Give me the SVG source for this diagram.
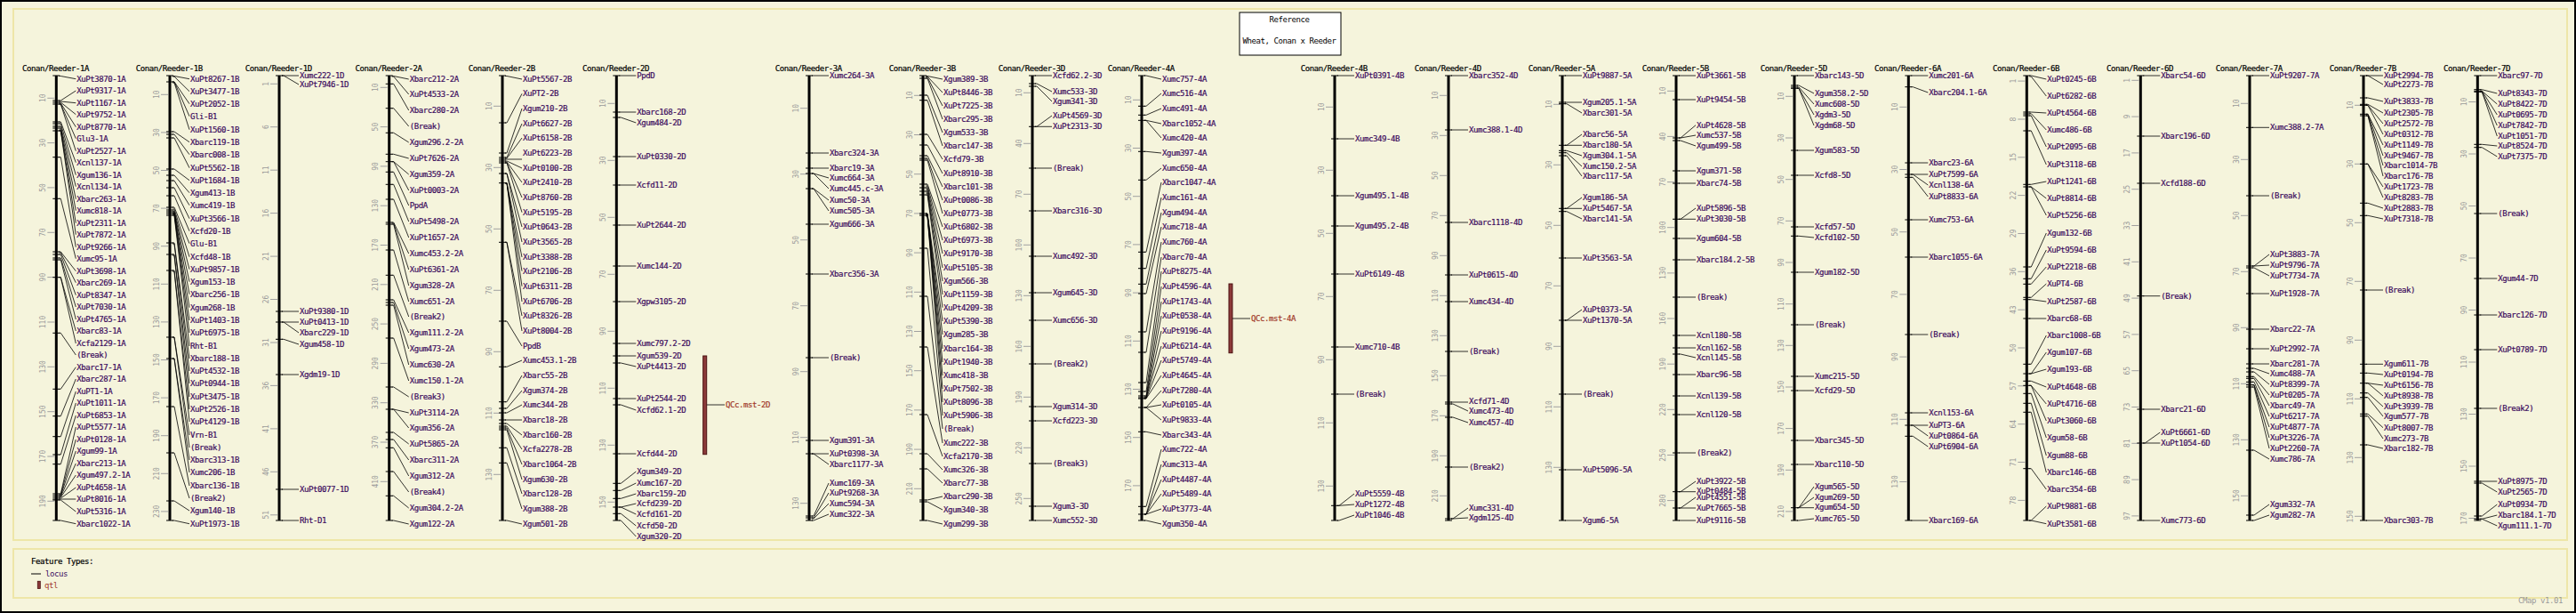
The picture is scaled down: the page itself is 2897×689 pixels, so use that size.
<svg xmlns="http://www.w3.org/2000/svg" width="2897" height="689" viewBox="0 0 2897 689">
<style>
text{font-family:"DejaVu Sans Mono","Liberation Mono",monospace;font-size:9px;letter-spacing:-0.42px;dominant-baseline:central}
.lab text{fill:#3b0a5c;stroke:#3b0a5c;stroke-width:0.2px}
.ttl{fill:#000;stroke:#000;stroke-width:0.2px}
.sc text{font-size:8px;fill:#9a9a9a;text-anchor:middle;letter-spacing:0}
.stk{stroke:#a0a0a0;stroke-width:1;fill:none}
.tk{stroke:#000;stroke-width:1;fill:none}
.bar{fill:#000}
#connectors path{stroke:#000;stroke-width:0.8;fill:none}
.qtl{fill:#8c3a3a;stroke:#4a1010;stroke-width:1}
.qlab{fill:#a23a2a;stroke:#a23a2a;stroke-width:0.2px}
</style>
<rect x="1" y="1" width="2895" height="687" fill="#f6f4dc" stroke="#000" stroke-width="2"/>
<rect x="15" y="10" width="2872" height="597" fill="#f5f4dc" stroke="#eee6a8" stroke-width="2"/>
<rect x="15" y="617" width="2872" height="55" fill="#f5f4dc" stroke="#eee6a8" stroke-width="2"/>
<g id="title">
<rect x="1394" y="14" width="114" height="48" fill="#fff" stroke="#000" stroke-width="1"/>
<text x="1450" y="22" text-anchor="middle" fill="#000">Reference</text>
<text x="1450" y="46" text-anchor="middle" fill="#000">Wheat, Conan x Reeder</text>
</g>

<g id="map-1A" transform="translate(63.3 0)">
<text class="ttl" x="-38.3" y="77">Conan/Reeder-1A</text>
<path class="stk" d="M-10 110.3H-2M-10 160.6H-2M-10 210.9H-2M-10 261.3H-2M-10 311.6H-2M-10 362H-2M-10 412.3H-2M-10 462.7H-2M-10 513H-2M-10 563.3H-2"/>
<g class="sc"><text transform="translate(-15 110.3) rotate(-90)">10</text><text transform="translate(-15 160.6) rotate(-90)">30</text><text transform="translate(-15 210.9) rotate(-90)">50</text><text transform="translate(-15 261.3) rotate(-90)">70</text><text transform="translate(-15 311.6) rotate(-90)">90</text><text transform="translate(-15 362) rotate(-90)">110</text><text transform="translate(-15 412.3) rotate(-90)">130</text><text transform="translate(-15 462.7) rotate(-90)">150</text><text transform="translate(-15 513) rotate(-90)">170</text><text transform="translate(-15 563.3) rotate(-90)">190</text></g>
<rect class="bar" x="-1.5" y="85" width="3" height="500"/>
<path class="tk" d="M-4 85H4M-4 585H4M-4 113H4M-4 115H4M-4 117H4M-4 137H4M-4 139H4M-4 142H4M-4 144H4M-4 147H4M-4 176.7H4M-4 223.3H4M-4 283H4M-4 286H4M-4 290H4M-4 292H4M-4 311.7H4M-4 374.3H4M-4 437.3H4M-4 467.7H4M-4 490.7H4M-4 511H4M-4 521.7H4M-4 555H4M-4 557H4M-4 559H4M-4 561H4M-4 562H4"/>
<g class="lab">
<text x="23" y="88.7">XuPt3870-1A</text><text x="23" y="102">XuPt9317-1A</text><text x="23" y="115.7">XuPt1167-1A</text><text x="23" y="128.7">XuPt9752-1A</text><text x="23" y="142.7">XuPt8770-1A</text><text x="23" y="155.7">Glu3-1A</text><text x="23" y="169.7">XuPt2527-1A</text><text x="23" y="182.7">Xcnl137-1A</text><text x="23" y="196.7">Xgum136-1A</text><text x="23" y="209.7">Xcnl134-1A</text><text x="23" y="223.7">Xbarc263-1A</text><text x="23" y="236.7">Xumc818-1A</text><text x="23" y="250.7">XuPt2311-1A</text><text x="23" y="263.7">XuPt7872-1A</text><text x="23" y="277.7">XuPt9266-1A</text><text x="23" y="290.7">Xumc95-1A</text><text x="23" y="304.7">XuPt3698-1A</text><text x="23" y="317.7">Xbarc269-1A</text><text x="23" y="331.7">XuPt8347-1A</text><text x="23" y="345">XuPt7030-1A</text><text x="23" y="359">XuPt4765-1A</text><text x="23" y="372">Xbarc83-1A</text><text x="23" y="386">Xcfa2129-1A</text><text x="23" y="399">(Break)</text><text x="23" y="412.7">Xbarc17-1A</text><text x="23" y="426">Xbarc287-1A</text><text x="23" y="440">XuPT1-1A</text><text x="23" y="453">XuPt1011-1A</text><text x="23" y="467">XuPt6853-1A</text><text x="23" y="480">XuPt5577-1A</text><text x="23" y="494">XuPt0128-1A</text><text x="23" y="507">Xgum99-1A</text><text x="23" y="521">Xbarc213-1A</text><text x="23" y="534">Xgum497.2-1A</text><text x="23" y="548">XuPt4658-1A</text><text x="23" y="561">XuPt8016-1A</text><text x="23" y="575">XuPt5316-1A</text><text x="23" y="588.7">Xbarc1022-1A</text>
</g>
</g>

<g id="map-1B" transform="translate(191 0)">
<text class="ttl" x="-38.3" y="77">Conan/Reeder-1B</text>
<path class="stk" d="M-10 106.3H-2M-10 148.9H-2M-10 191.5H-2M-10 234.1H-2M-10 276.7H-2M-10 319.3H-2M-10 361.9H-2M-10 404.5H-2M-10 447.1H-2M-10 489.7H-2M-10 532.3H-2M-10 574.9H-2"/>
<g class="sc"><text transform="translate(-15 106.3) rotate(-90)">10</text><text transform="translate(-15 148.9) rotate(-90)">30</text><text transform="translate(-15 191.5) rotate(-90)">50</text><text transform="translate(-15 234.1) rotate(-90)">70</text><text transform="translate(-15 276.7) rotate(-90)">90</text><text transform="translate(-15 319.3) rotate(-90)">110</text><text transform="translate(-15 361.9) rotate(-90)">130</text><text transform="translate(-15 404.5) rotate(-90)">150</text><text transform="translate(-15 447.1) rotate(-90)">170</text><text transform="translate(-15 489.7) rotate(-90)">190</text><text transform="translate(-15 532.3) rotate(-90)">210</text><text transform="translate(-15 574.9) rotate(-90)">230</text></g>
<rect class="bar" x="-1.5" y="85" width="3" height="500"/>
<path class="tk" d="M-4 85H4M-4 585H4M-4 92H4M-4 148H4M-4 151H4M-4 155H4M-4 190H4M-4 197H4M-4 203H4M-4 211H4M-4 220H4M-4 233H4M-4 236H4M-4 238H4M-4 240H4M-4 242H4M-4 273H4M-4 286H4M-4 304H4M-4 379H4M-4 403H4M-4 457H4M-4 509H4M-4 563H4"/>
<g class="lab">
<text x="23" y="88.7">XuPt8267-1B</text><text x="23" y="102.7">XuPt3477-1B</text><text x="23" y="116.7">XuPt2052-1B</text><text x="23" y="130.7">Gli-B1</text><text x="23" y="145.7">XuPt1560-1B</text><text x="23" y="159.7">Xbarc119-1B</text><text x="23" y="173.7">Xbarc008-1B</text><text x="23" y="188.7">XuPt5562-1B</text><text x="23" y="202.7">XuPt1684-1B</text><text x="23" y="216.7">Xgum413-1B</text><text x="23" y="230.7">Xumc419-1B</text><text x="23" y="245.7">XuPt3566-1B</text><text x="23" y="259.7">Xcfd20-1B</text><text x="23" y="273.7">Glu-B1</text><text x="23" y="288.7">Xcfd48-1B</text><text x="23" y="302.7">XuPt9857-1B</text><text x="23" y="316.7">Xgum153-1B</text><text x="23" y="330.7">Xbarc256-1B</text><text x="23" y="345.7">Xgum268-1B</text><text x="23" y="360">XuPt1403-1B</text><text x="23" y="374">XuPt6975-1B</text><text x="23" y="389">Rht-B1</text><text x="23" y="403">Xbarc188-1B</text><text x="23" y="417">XuPt4532-1B</text><text x="23" y="431">XuPt0944-1B</text><text x="23" y="446">XuPt3475-1B</text><text x="23" y="460">XuPt2526-1B</text><text x="23" y="474">XuPt4129-1B</text><text x="23" y="489">Vrn-B1</text><text x="23" y="503">(Break)</text><text x="23" y="517">Xbarc313-1B</text><text x="23" y="531">Xumc206-1B</text><text x="23" y="546">Xbarc136-1B</text><text x="23" y="560">(Break2)</text><text x="23" y="574">Xgum140-1B</text><text x="23" y="588.7">XuPt1973-1B</text>
</g>
</g>

<g id="map-1D" transform="translate(314 0)">
<text class="ttl" x="-38.3" y="77">Conan/Reeder-1D</text>
<path class="stk" d="M-10 94.3H-2M-10 142.7H-2M-10 191.2H-2M-10 239.6H-2M-10 288.1H-2M-10 336.5H-2M-10 385H-2M-10 433.4H-2M-10 481.9H-2M-10 530.3H-2M-10 578.8H-2"/>
<g class="sc"><text transform="translate(-15 94.3) rotate(-90)">1</text><text transform="translate(-15 142.7) rotate(-90)">6</text><text transform="translate(-15 191.2) rotate(-90)">11</text><text transform="translate(-15 239.6) rotate(-90)">16</text><text transform="translate(-15 288.1) rotate(-90)">21</text><text transform="translate(-15 336.5) rotate(-90)">26</text><text transform="translate(-15 385) rotate(-90)">31</text><text transform="translate(-15 433.4) rotate(-90)">36</text><text transform="translate(-15 481.9) rotate(-90)">41</text><text transform="translate(-15 530.3) rotate(-90)">46</text><text transform="translate(-15 578.8) rotate(-90)">51</text></g>
<rect class="bar" x="-1.5" y="85" width="3" height="500"/>
<path class="tk" d="M-4 85H4M-4 585H4M-4 350H4M-4 362H4M-4 381.3H4M-4 421H4M-4 550H4"/>
<g class="lab">
<text x="23" y="85">Xumc222-1D</text><text x="23" y="95">XuPt7946-1D</text><text x="23" y="350">XuPt9380-1D</text><text x="23" y="362">XuPt0413-1D</text><text x="23" y="374">Xbarc229-1D</text><text x="23" y="387">Xgum458-1D</text><text x="23" y="421">Xgdm19-1D</text><text x="23" y="550">XuPt0077-1D</text><text x="23" y="585">Rht-D1</text>
</g>
</g>

<g id="map-2A" transform="translate(437.7 0)">
<text class="ttl" x="-38.3" y="77">Conan/Reeder-2A</text>
<path class="stk" d="M-10 98.3H-2M-10 142.6H-2M-10 186.9H-2M-10 231.2H-2M-10 275.5H-2M-10 319.8H-2M-10 364.1H-2M-10 408.4H-2M-10 452.7H-2M-10 497H-2M-10 541.3H-2"/>
<g class="sc"><text transform="translate(-15 98.3) rotate(-90)">10</text><text transform="translate(-15 142.6) rotate(-90)">50</text><text transform="translate(-15 186.9) rotate(-90)">90</text><text transform="translate(-15 231.2) rotate(-90)">130</text><text transform="translate(-15 275.5) rotate(-90)">170</text><text transform="translate(-15 319.8) rotate(-90)">210</text><text transform="translate(-15 364.1) rotate(-90)">250</text><text transform="translate(-15 408.4) rotate(-90)">290</text><text transform="translate(-15 452.7) rotate(-90)">330</text><text transform="translate(-15 497) rotate(-90)">370</text><text transform="translate(-15 541.3) rotate(-90)">410</text></g>
<rect class="bar" x="-1.5" y="85" width="3" height="500"/>
<path class="tk" d="M-4 85H4M-4 585H4M-4 94.3H4M-4 121.7H4M-4 149.3H4M-4 173.3H4M-4 181.7H4M-4 193.3H4M-4 207.3H4M-4 224H4M-4 250H4M-4 252H4M-4 281H4M-4 309.3H4M-4 337H4M-4 340H4M-4 343H4M-4 380H4M-4 435H4M-4 460H4M-4 486H4M-4 494H4M-4 503.3H4M-4 530H4M-4 557.3H4"/>
<g class="lab">
<text x="23" y="89">Xbarc212-2A</text><text x="23" y="106">XuPt4533-2A</text><text x="23" y="124">Xbarc280-2A</text><text x="23" y="142">(Break)</text><text x="23" y="160">Xgum296.2-2A</text><text x="23" y="178">XuPt7626-2A</text><text x="23" y="196">Xgum359-2A</text><text x="23" y="214">XuPt0003-2A</text><text x="23" y="231">PpdA</text><text x="23" y="249">XuPt5498-2A</text><text x="23" y="267">XuPt1657-2A</text><text x="23" y="285">Xumc453.2-2A</text><text x="23" y="303">XuPt6361-2A</text><text x="23" y="321">Xgum328-2A</text><text x="23" y="339">Xumc651-2A</text><text x="23" y="356">(Break2)</text><text x="23" y="374">Xgum111.2-2A</text><text x="23" y="392">Xgum473-2A</text><text x="23" y="410">Xumc630-2A</text><text x="23" y="428">Xumc150.1-2A</text><text x="23" y="446">(Break3)</text><text x="23" y="464">XuPt3114-2A</text><text x="23" y="481">Xgum356-2A</text><text x="23" y="499">XuPt5865-2A</text><text x="23" y="517">Xbarc311-2A</text><text x="23" y="535">Xgum312-2A</text><text x="23" y="553">(Break4)</text><text x="23" y="571">Xgum304.2-2A</text><text x="23" y="589">Xgum122-2A</text>
</g>
</g>

<g id="map-2B" transform="translate(565 0)">
<text class="ttl" x="-38.3" y="77">Conan/Reeder-2B</text>
<path class="stk" d="M-10 119.3H-2M-10 188.3H-2M-10 257.3H-2M-10 326.3H-2M-10 395.3H-2M-10 464.3H-2M-10 533.3H-2"/>
<g class="sc"><text transform="translate(-15 119.3) rotate(-90)">10</text><text transform="translate(-15 188.3) rotate(-90)">30</text><text transform="translate(-15 257.3) rotate(-90)">50</text><text transform="translate(-15 326.3) rotate(-90)">70</text><text transform="translate(-15 395.3) rotate(-90)">90</text><text transform="translate(-15 464.3) rotate(-90)">110</text><text transform="translate(-15 533.3) rotate(-90)">130</text></g>
<rect class="bar" x="-1.5" y="85" width="3" height="500"/>
<path class="tk" d="M-4 85H4M-4 585H4M-4 138H4M-4 172H4M-4 177H4M-4 179H4M-4 181H4M-4 183H4M-4 195H4M-4 205.7H4M-4 272.3H4M-4 361H4M-4 412.3H4M-4 451.7H4M-4 459H4M-4 464H4M-4 472H4M-4 476H4M-4 479H4M-4 481H4M-4 483H4M-4 503.3H4M-4 520.3H4"/>
<g class="lab">
<text x="23" y="89">XuPt5567-2B</text><text x="23" y="105.3">XuPT2-2B</text><text x="23" y="122">Xgum210-2B</text><text x="23" y="139">XuPt6627-2B</text><text x="23" y="155">XuPt6158-2B</text><text x="23" y="172">XuPt6223-2B</text><text x="23" y="189">XuPt0100-2B</text><text x="23" y="205">XuPt2410-2B</text><text x="23" y="222">XuPt8760-2B</text><text x="23" y="238.7">XuPt5195-2B</text><text x="23" y="255">XuPt0643-2B</text><text x="23" y="272">XuPt3565-2B</text><text x="23" y="289">XuPt3388-2B</text><text x="23" y="304.7">XuPt2106-2B</text><text x="23" y="321.7">XuPt6311-2B</text><text x="23" y="339">XuPt6706-2B</text><text x="23" y="355">XuPt8326-2B</text><text x="23" y="372">XuPt8004-2B</text><text x="23" y="389">PpdB</text><text x="23" y="405">Xumc453.1-2B</text><text x="23" y="422">Xbarc55-2B</text><text x="23" y="439">Xgum374-2B</text><text x="23" y="455">Xumc344-2B</text><text x="23" y="472">Xbarc18-2B</text><text x="23" y="489">Xbarc160-2B</text><text x="23" y="505">Xcfa2278-2B</text><text x="23" y="522">Xbarc1064-2B</text><text x="23" y="539">Xgum630-2B</text><text x="23" y="555">Xbarc128-2B</text><text x="23" y="572">Xgum388-2B</text><text x="23" y="589">Xgum501-2B</text>
</g>
</g>

<g id="map-2D" transform="translate(693.3 0)">
<text class="ttl" x="-38.3" y="77">Conan/Reeder-2D</text>
<path class="stk" d="M-10 116.3H-2M-10 180.3H-2M-10 244.3H-2M-10 308.3H-2M-10 372.3H-2M-10 436.3H-2M-10 500.3H-2M-10 564.3H-2"/>
<g class="sc"><text transform="translate(-15 116.3) rotate(-90)">10</text><text transform="translate(-15 180.3) rotate(-90)">30</text><text transform="translate(-15 244.3) rotate(-90)">50</text><text transform="translate(-15 308.3) rotate(-90)">70</text><text transform="translate(-15 372.3) rotate(-90)">90</text><text transform="translate(-15 436.3) rotate(-90)">110</text><text transform="translate(-15 500.3) rotate(-90)">130</text><text transform="translate(-15 564.3) rotate(-90)">150</text></g>
<rect class="bar" x="-1.5" y="85" width="3" height="500"/>
<path class="tk" d="M-4 85H4M-4 585H4M-4 126H4M-4 132H4M-4 176H4M-4 208H4M-4 253H4M-4 299H4M-4 339H4M-4 386H4M-4 400H4M-4 408H4M-4 448H4M-4 455H4M-4 510H4M-4 543.3H4M-4 551.3H4M-4 560.3H4M-4 570H4M-4 577.3H4"/>
<g class="lab">
<text x="23" y="85">PpdD</text><text x="23" y="126">Xbarc168-2D</text><text x="23" y="138">Xgum484-2D</text><text x="23" y="176">XuPt0330-2D</text><text x="23" y="208">Xcfd11-2D</text><text x="23" y="253">XuPt2644-2D</text><text x="23" y="299">Xumc144-2D</text><text x="23" y="339">Xgpw3105-2D</text><text x="23" y="386">Xumc797.2-2D</text><text x="23" y="400">Xgum539-2D</text><text x="23" y="412">XuPt4413-2D</text><text x="23" y="448">XuPt2544-2D</text><text x="23" y="461">Xcfd62.1-2D</text><text x="23" y="510">Xcfd44-2D</text><text x="23" y="530">Xgum349-2D</text><text x="23" y="543">Xumc167-2D</text><text x="23" y="555">Xbarc159-2D</text><text x="23" y="566">Xcfd239-2D</text><text x="23" y="578">Xcfd161-2D</text><text x="23" y="591">Xcfd50-2D</text><text x="23" y="603">Xgum320-2D</text>
</g>
</g>

<g id="qtl-2D">
<rect class="qtl" x="790.7" y="400" width="4" height="110.7"/>
<text class="qlab" x="816" y="455">QCc.mst-2D</text>
</g>

<g id="map-3A" transform="translate(910 0)">
<text class="ttl" x="-38.3" y="77">Conan/Reeder-3A</text>
<path class="stk" d="M-10 121.7H-2M-10 195.7H-2M-10 269.7H-2M-10 343.7H-2M-10 417.7H-2M-10 491.7H-2M-10 565.7H-2"/>
<g class="sc"><text transform="translate(-15 121.7) rotate(-90)">10</text><text transform="translate(-15 195.7) rotate(-90)">30</text><text transform="translate(-15 269.7) rotate(-90)">50</text><text transform="translate(-15 343.7) rotate(-90)">70</text><text transform="translate(-15 417.7) rotate(-90)">90</text><text transform="translate(-15 491.7) rotate(-90)">110</text><text transform="translate(-15 565.7) rotate(-90)">130</text></g>
<rect class="bar" x="-1.5" y="85" width="3" height="500"/>
<path class="tk" d="M-4 85H4M-4 585H4M-4 172H4M-4 189H4M-4 195H4M-4 212H4M-4 252H4M-4 308H4M-4 402H4M-4 495H4M-4 510H4M-4 580H4M-4 582H4"/>
<g class="lab">
<text x="23" y="85">Xumc264-3A</text><text x="23" y="172">Xbarc324-3A</text><text x="23" y="189">Xbarc19-3A</text><text x="23" y="200">Xumc664-3A</text><text x="23" y="212">Xumc445.c-3A</text><text x="23" y="225">Xumc50-3A</text><text x="23" y="237">Xumc505-3A</text><text x="23" y="252">Xgum666-3A</text><text x="23" y="308">Xbarc356-3A</text><text x="23" y="402">(Break)</text><text x="23" y="495">Xgum391-3A</text><text x="23" y="510">XuPt0398-3A</text><text x="23" y="522">Xbarc1177-3A</text><text x="23" y="543">Xumc169-3A</text><text x="23" y="554">XuPt9268-3A</text><text x="23" y="566">Xumc594-3A</text><text x="23" y="578">Xumc322-3A</text>
</g>
</g>

<g id="map-3B" transform="translate(1038 0)">
<text class="ttl" x="-38.3" y="77">Conan/Reeder-3B</text>
<path class="stk" d="M-10 107.3H-2M-10 151.5H-2M-10 195.7H-2M-10 239.9H-2M-10 284.1H-2M-10 328.3H-2M-10 372.5H-2M-10 416.7H-2M-10 460.9H-2M-10 505.1H-2M-10 549.3H-2"/>
<g class="sc"><text transform="translate(-15 107.3) rotate(-90)">10</text><text transform="translate(-15 151.5) rotate(-90)">30</text><text transform="translate(-15 195.7) rotate(-90)">50</text><text transform="translate(-15 239.9) rotate(-90)">70</text><text transform="translate(-15 284.1) rotate(-90)">90</text><text transform="translate(-15 328.3) rotate(-90)">110</text><text transform="translate(-15 372.5) rotate(-90)">130</text><text transform="translate(-15 416.7) rotate(-90)">150</text><text transform="translate(-15 460.9) rotate(-90)">170</text><text transform="translate(-15 505.1) rotate(-90)">190</text><text transform="translate(-15 549.3) rotate(-90)">210</text></g>
<rect class="bar" x="-1.5" y="85" width="3" height="500"/>
<path class="tk" d="M-4 85H4M-4 585H4M-4 88H4M-4 107H4M-4 112.7H4M-4 151H4M-4 163H4M-4 175H4M-4 178H4M-4 180H4M-4 207H4M-4 211H4M-4 215H4M-4 219H4M-4 240H4M-4 242H4M-4 279H4M-4 333H4M-4 390H4M-4 466H4M-4 510H4M-4 527H4M-4 562H4M-4 564H4"/>
<g class="lab">
<text x="23" y="89">Xgum389-3B</text><text x="23" y="104">XuPt8446-3B</text><text x="23" y="119">XuPt7225-3B</text><text x="23" y="134">Xbarc295-3B</text><text x="23" y="149">Xgum533-3B</text><text x="23" y="164">Xbarc147-3B</text><text x="23" y="179">Xcfd79-3B</text><text x="23" y="195">XuPt8910-3B</text><text x="23" y="210">Xbarc101-3B</text><text x="23" y="225">XuPt0086-3B</text><text x="23" y="240">XuPt0773-3B</text><text x="23" y="255">XuPt6802-3B</text><text x="23" y="270">XuPt6973-3B</text><text x="23" y="285">XuPt9170-3B</text><text x="23" y="301">XuPt5105-3B</text><text x="23" y="316">Xgum566-3B</text><text x="23" y="331">XuPt1159-3B</text><text x="23" y="345.7">XuPt4209-3B</text><text x="23" y="361">XuPt5390-3B</text><text x="23" y="376">Xgum285-3B</text><text x="23" y="392">Xbarc164-3B</text><text x="23" y="407">XuPt1940-3B</text><text x="23" y="422">Xumc418-3B</text><text x="23" y="437">XuPt7502-3B</text><text x="23" y="452">XuPt8096-3B</text><text x="23" y="467">XuPt5906-3B</text><text x="23" y="482">(Break)</text><text x="23" y="498">Xumc222-3B</text><text x="23" y="513">Xcfa2170-3B</text><text x="23" y="528">Xumc326-3B</text><text x="23" y="543">Xbarc77-3B</text><text x="23" y="558">Xbarc290-3B</text><text x="23" y="573">Xgum340-3B</text><text x="23" y="589">Xgum299-3B</text>
</g>
</g>

<g id="map-3D" transform="translate(1161 0)">
<text class="ttl" x="-38.3" y="77">Conan/Reeder-3D</text>
<path class="stk" d="M-10 104.3H-2M-10 161.3H-2M-10 218.3H-2M-10 275.3H-2M-10 332.3H-2M-10 389.3H-2M-10 446.3H-2M-10 503.3H-2M-10 560.3H-2"/>
<g class="sc"><text transform="translate(-15 104.3) rotate(-90)">10</text><text transform="translate(-15 161.3) rotate(-90)">40</text><text transform="translate(-15 218.3) rotate(-90)">70</text><text transform="translate(-15 275.3) rotate(-90)">100</text><text transform="translate(-15 332.3) rotate(-90)">130</text><text transform="translate(-15 389.3) rotate(-90)">160</text><text transform="translate(-15 446.3) rotate(-90)">190</text><text transform="translate(-15 503.3) rotate(-90)">220</text><text transform="translate(-15 560.3) rotate(-90)">250</text></g>
<rect class="bar" x="-1.5" y="85" width="3" height="500"/>
<path class="tk" d="M-4 85H4M-4 585H4M-4 94H4M-4 97H4M-4 142.3H4M-4 189H4M-4 237H4M-4 288H4M-4 329H4M-4 360H4M-4 409H4M-4 457H4M-4 473H4M-4 521H4M-4 569H4"/>
<g class="lab">
<text x="23" y="85">Xcfd62.2-3D</text><text x="23" y="103">Xumc533-3D</text><text x="23" y="114">Xgum341-3D</text><text x="23" y="130">XuPt4569-3D</text><text x="23" y="142">XuPt2313-3D</text><text x="23" y="189">(Break)</text><text x="23" y="237">Xbarc316-3D</text><text x="23" y="288">Xumc492-3D</text><text x="23" y="329">Xgum645-3D</text><text x="23" y="360">Xumc656-3D</text><text x="23" y="409">(Break2)</text><text x="23" y="457">Xgum314-3D</text><text x="23" y="473">Xcfd223-3D</text><text x="23" y="521">(Break3)</text><text x="23" y="569">Xgum3-3D</text><text x="23" y="585">Xumc552-3D</text>
</g>
</g>

<g id="map-4A" transform="translate(1284 0)">
<text class="ttl" x="-38.3" y="77">Conan/Reeder-4A</text>
<path class="stk" d="M-10 112.3H-2M-10 166.5H-2M-10 220.7H-2M-10 274.9H-2M-10 329.1H-2M-10 383.3H-2M-10 437.5H-2M-10 491.7H-2M-10 545.9H-2"/>
<g class="sc"><text transform="translate(-15 112.3) rotate(-90)">10</text><text transform="translate(-15 166.5) rotate(-90)">30</text><text transform="translate(-15 220.7) rotate(-90)">50</text><text transform="translate(-15 274.9) rotate(-90)">70</text><text transform="translate(-15 329.1) rotate(-90)">90</text><text transform="translate(-15 383.3) rotate(-90)">110</text><text transform="translate(-15 437.5) rotate(-90)">130</text><text transform="translate(-15 491.7) rotate(-90)">150</text><text transform="translate(-15 545.9) rotate(-90)">170</text></g>
<rect class="bar" x="-1.5" y="85" width="3" height="500"/>
<path class="tk" d="M-4 85H4M-4 585H4M-4 119.3H4M-4 129.3H4M-4 135.3H4M-4 170.3H4M-4 202.3H4M-4 283.3H4M-4 301.7H4M-4 319.3H4M-4 330H4M-4 373H4M-4 396H4M-4 430H4M-4 440H4M-4 445H4M-4 447H4M-4 448H4M-4 458H4M-4 485.3H4M-4 569.3H4M-4 578H4"/>
<g class="lab">
<text x="23" y="89">Xumc757-4A</text><text x="23" y="105">Xumc516-4A</text><text x="23" y="122">Xumc491-4A</text><text x="23" y="139">Xbarc1052-4A</text><text x="23" y="155">Xumc420-4A</text><text x="23" y="172">Xgum397-4A</text><text x="23" y="189">Xumc650-4A</text><text x="23" y="205">Xbarc1047-4A</text><text x="23" y="222">Xumc161-4A</text><text x="23" y="239">Xgum494-4A</text><text x="23" y="255">Xumc718-4A</text><text x="23" y="272">Xumc760-4A</text><text x="23" y="289">Xbarc70-4A</text><text x="23" y="305">XuPt8275-4A</text><text x="23" y="322">XuPt4596-4A</text><text x="23" y="339">XuPt1743-4A</text><text x="23" y="355">XuPt0538-4A</text><text x="23" y="372">XuPt9196-4A</text><text x="23" y="389">XuPt6214-4A</text><text x="23" y="405">XuPt5749-4A</text><text x="23" y="422">XuPt4645-4A</text><text x="23" y="439">XuPt7280-4A</text><text x="23" y="455">XuPt0105-4A</text><text x="23" y="472">XuPt9833-4A</text><text x="23" y="489">Xbarc343-4A</text><text x="23" y="505">Xumc722-4A</text><text x="23" y="522">Xumc313-4A</text><text x="23" y="539">XuPt4487-4A</text><text x="23" y="555">XuPt5489-4A</text><text x="23" y="572">XuPt3773-4A</text><text x="23" y="589">Xgum350-4A</text>
</g>
</g>

<g id="qtl-4A">
<rect class="qtl" x="1382" y="319" width="4" height="77.7"/>
<text class="qlab" x="1407" y="358">QCc.mst-4A</text>
</g>

<g id="map-4B" transform="translate(1501 0)">
<text class="ttl" x="-38.3" y="77">Conan/Reeder-4B</text>
<path class="stk" d="M-10 120.3H-2M-10 191.3H-2M-10 262.3H-2M-10 333.3H-2M-10 404.3H-2M-10 475.3H-2M-10 546.3H-2"/>
<g class="sc"><text transform="translate(-15 120.3) rotate(-90)">10</text><text transform="translate(-15 191.3) rotate(-90)">30</text><text transform="translate(-15 262.3) rotate(-90)">50</text><text transform="translate(-15 333.3) rotate(-90)">70</text><text transform="translate(-15 404.3) rotate(-90)">90</text><text transform="translate(-15 475.3) rotate(-90)">110</text><text transform="translate(-15 546.3) rotate(-90)">130</text></g>
<rect class="bar" x="-1.5" y="85" width="3" height="500"/>
<path class="tk" d="M-4 85H4M-4 585H4M-4 156H4M-4 220H4M-4 254H4M-4 308H4M-4 390H4M-4 443H4M-4 568.3H4"/>
<g class="lab">
<text x="23" y="85">XuPt0391-4B</text><text x="23" y="156">Xumc349-4B</text><text x="23" y="220">Xgum495.1-4B</text><text x="23" y="254">Xgum495.2-4B</text><text x="23" y="308">XuPt6149-4B</text><text x="23" y="390">Xumc710-4B</text><text x="23" y="443">(Break)</text><text x="23" y="555">XuPt5559-4B</text><text x="23" y="567">XuPt1272-4B</text><text x="23" y="579">XuPt1046-4B</text>
</g>
</g>

<g id="map-4D" transform="translate(1629 0)">
<text class="ttl" x="-38.3" y="77">Conan/Reeder-4D</text>
<path class="stk" d="M-10 107.3H-2M-10 152.3H-2M-10 197.3H-2M-10 242.3H-2M-10 287.3H-2M-10 332.3H-2M-10 377.3H-2M-10 422.3H-2M-10 467.3H-2M-10 512.3H-2M-10 557.3H-2"/>
<g class="sc"><text transform="translate(-15 107.3) rotate(-90)">10</text><text transform="translate(-15 152.3) rotate(-90)">30</text><text transform="translate(-15 197.3) rotate(-90)">50</text><text transform="translate(-15 242.3) rotate(-90)">70</text><text transform="translate(-15 287.3) rotate(-90)">90</text><text transform="translate(-15 332.3) rotate(-90)">110</text><text transform="translate(-15 377.3) rotate(-90)">130</text><text transform="translate(-15 422.3) rotate(-90)">150</text><text transform="translate(-15 467.3) rotate(-90)">170</text><text transform="translate(-15 512.3) rotate(-90)">190</text><text transform="translate(-15 557.3) rotate(-90)">210</text></g>
<rect class="bar" x="-1.5" y="85" width="3" height="500"/>
<path class="tk" d="M-4 85H4M-4 585H4M-4 146H4M-4 250H4M-4 309H4M-4 339H4M-4 395H4M-4 452H4M-4 454H4M-4 469H4M-4 525H4M-4 583H4"/>
<g class="lab">
<text x="23" y="85">Xbarc352-4D</text><text x="23" y="146">Xumc388.1-4D</text><text x="23" y="250">Xbarc1118-4D</text><text x="23" y="309">XuPt0615-4D</text><text x="23" y="339">Xumc434-4D</text><text x="23" y="395">(Break)</text><text x="23" y="451">Xcfd71-4D</text><text x="23" y="462">Xumc473-4D</text><text x="23" y="475">Xumc457-4D</text><text x="23" y="525">(Break2)</text><text x="23" y="571">Xumc331-4D</text><text x="23" y="582">Xgdm125-4D</text>
</g>
</g>

<g id="map-5A" transform="translate(1757 0)">
<text class="ttl" x="-38.3" y="77">Conan/Reeder-5A</text>
<path class="stk" d="M-10 117.3H-2M-10 185.3H-2M-10 253.3H-2M-10 321.3H-2M-10 389.3H-2M-10 457.3H-2M-10 525.3H-2"/>
<g class="sc"><text transform="translate(-15 117.3) rotate(-90)">10</text><text transform="translate(-15 185.3) rotate(-90)">30</text><text transform="translate(-15 253.3) rotate(-90)">50</text><text transform="translate(-15 321.3) rotate(-90)">70</text><text transform="translate(-15 389.3) rotate(-90)">90</text><text transform="translate(-15 457.3) rotate(-90)">110</text><text transform="translate(-15 525.3) rotate(-90)">130</text></g>
<rect class="bar" x="-1.5" y="85" width="3" height="500"/>
<path class="tk" d="M-4 85H4M-4 585H4M-4 115H4M-4 116.7H4M-4 163.3H4M-4 169.3H4M-4 171.7H4M-4 175H4M-4 234.3H4M-4 237.7H4M-4 290H4M-4 360H4M-4 443H4M-4 528H4"/>
<g class="lab">
<text x="23" y="85">XuPt9887-5A</text><text x="23" y="115">Xgum205.1-5A</text><text x="23" y="127">Xbarc301-5A</text><text x="23" y="151">Xbarc56-5A</text><text x="23" y="163">Xbarc180-5A</text><text x="23" y="175">Xgum304.1-5A</text><text x="23" y="187">Xumc150.2-5A</text><text x="23" y="198">Xbarc117-5A</text><text x="23" y="222">Xgum186-5A</text><text x="23" y="234">XuPt5467-5A</text><text x="23" y="246">Xbarc141-5A</text><text x="23" y="290">XuPt3563-5A</text><text x="23" y="348">XuPt0373-5A</text><text x="23" y="360">XuPt1370-5A</text><text x="23" y="443">(Break)</text><text x="23" y="528">XuPt5096-5A</text><text x="23" y="585">Xgum6-5A</text>
</g>
</g>

<g id="map-5B" transform="translate(1885 0)">
<text class="ttl" x="-38.3" y="77">Conan/Reeder-5B</text>
<path class="stk" d="M-10 102.3H-2M-10 153.4H-2M-10 204.6H-2M-10 255.7H-2M-10 306.9H-2M-10 358H-2M-10 409.2H-2M-10 460.3H-2M-10 511.5H-2M-10 562.6H-2"/>
<g class="sc"><text transform="translate(-15 102.3) rotate(-90)">10</text><text transform="translate(-15 153.4) rotate(-90)">40</text><text transform="translate(-15 204.6) rotate(-90)">70</text><text transform="translate(-15 255.7) rotate(-90)">100</text><text transform="translate(-15 306.9) rotate(-90)">130</text><text transform="translate(-15 358) rotate(-90)">160</text><text transform="translate(-15 409.2) rotate(-90)">190</text><text transform="translate(-15 460.3) rotate(-90)">220</text><text transform="translate(-15 511.5) rotate(-90)">250</text><text transform="translate(-15 562.6) rotate(-90)">280</text></g>
<rect class="bar" x="-1.5" y="85" width="3" height="500"/>
<path class="tk" d="M-4 85H4M-4 585H4M-4 112H4M-4 155H4M-4 158H4M-4 192H4M-4 206H4M-4 246.3H4M-4 268H4M-4 292H4M-4 334H4M-4 377H4M-4 391H4M-4 398H4M-4 421H4M-4 445H4M-4 466H4M-4 509H4M-4 552.7H4M-4 571H4"/>
<g class="lab">
<text x="23" y="85">XuPt3661-5B</text><text x="23" y="112">XuPt9454-5B</text><text x="23" y="140.7">XuPt4628-5B</text><text x="23" y="152">Xumc537-5B</text><text x="23" y="164">Xgum499-5B</text><text x="23" y="192">Xgum371-5B</text><text x="23" y="206">Xbarc74-5B</text><text x="23" y="234">XuPt5896-5B</text><text x="23" y="246">XuPt3030-5B</text><text x="23" y="268">Xgum604-5B</text><text x="23" y="292">Xbarc184.2-5B</text><text x="23" y="334">(Break)</text><text x="23" y="377">Xcnl180-5B</text><text x="23" y="391">Xcnl162-5B</text><text x="23" y="402">Xcnl145-5B</text><text x="23" y="421">Xbarc96-5B</text><text x="23" y="445">Xcnl139-5B</text><text x="23" y="466">Xcnl120-5B</text><text x="23" y="509">(Break2)</text><text x="23" y="541">XuPt3922-5B</text><text x="23" y="552">XuPt0484-5B</text><text x="23" y="559">XuPt4551-5B</text><text x="23" y="571">XuPt7665-5B</text><text x="23" y="585">XuPt9116-5B</text>
</g>
</g>

<g id="map-5D" transform="translate(2018 0)">
<text class="ttl" x="-38.3" y="77">Conan/Reeder-5D</text>
<path class="stk" d="M-10 108.3H-2M-10 155H-2M-10 201.7H-2M-10 248.3H-2M-10 295H-2M-10 341.7H-2M-10 388.3H-2M-10 435H-2M-10 481.6H-2M-10 528.3H-2M-10 574.9H-2"/>
<g class="sc"><text transform="translate(-15 108.3) rotate(-90)">10</text><text transform="translate(-15 155) rotate(-90)">30</text><text transform="translate(-15 201.7) rotate(-90)">50</text><text transform="translate(-15 248.3) rotate(-90)">70</text><text transform="translate(-15 295) rotate(-90)">90</text><text transform="translate(-15 341.7) rotate(-90)">110</text><text transform="translate(-15 388.3) rotate(-90)">130</text><text transform="translate(-15 435) rotate(-90)">150</text><text transform="translate(-15 481.6) rotate(-90)">170</text><text transform="translate(-15 528.3) rotate(-90)">190</text><text transform="translate(-15 574.9) rotate(-90)">210</text></g>
<rect class="bar" x="-1.5" y="85" width="3" height="500"/>
<path class="tk" d="M-4 85H4M-4 585H4M-4 96H4M-4 98H4M-4 99.3H4M-4 169H4M-4 197H4M-4 255H4M-4 265.3H4M-4 306H4M-4 365H4M-4 423H4M-4 439H4M-4 495H4M-4 522H4M-4 570.7H4"/>
<g class="lab">
<text x="23" y="85">Xbarc143-5D</text><text x="23" y="105">Xgum358.2-5D</text><text x="23" y="117">Xumc608-5D</text><text x="23" y="129">Xgdm3-5D</text><text x="23" y="141">Xgdm68-5D</text><text x="23" y="169">Xgum583-5D</text><text x="23" y="197">Xcfd8-5D</text><text x="23" y="255">Xcfd57-5D</text><text x="23" y="267">Xcfd102-5D</text><text x="23" y="306">Xgum182-5D</text><text x="23" y="365">(Break)</text><text x="23" y="423">Xumc215-5D</text><text x="23" y="439">Xcfd29-5D</text><text x="23" y="495">Xbarc345-5D</text><text x="23" y="522">Xbarc110-5D</text><text x="23" y="547">Xgum565-5D</text><text x="23" y="559">Xgum269-5D</text><text x="23" y="570">Xgum654-5D</text><text x="23" y="583">Xumc765-5D</text>
</g>
</g>

<g id="map-6A" transform="translate(2146.3 0)">
<text class="ttl" x="-38.3" y="77">Conan/Reeder-6A</text>
<path class="stk" d="M-10 120.3H-2M-10 190.5H-2M-10 260.7H-2M-10 330.9H-2M-10 401.1H-2M-10 471.3H-2M-10 541.5H-2"/>
<g class="sc"><text transform="translate(-15 120.3) rotate(-90)">10</text><text transform="translate(-15 190.5) rotate(-90)">30</text><text transform="translate(-15 260.7) rotate(-90)">50</text><text transform="translate(-15 330.9) rotate(-90)">70</text><text transform="translate(-15 401.1) rotate(-90)">90</text><text transform="translate(-15 471.3) rotate(-90)">110</text><text transform="translate(-15 541.5) rotate(-90)">130</text></g>
<rect class="bar" x="-1.5" y="85" width="3" height="500"/>
<path class="tk" d="M-4 85H4M-4 585H4M-4 97.7H4M-4 183H4M-4 196H4M-4 199.3H4M-4 247H4M-4 289H4M-4 376H4M-4 464H4M-4 478H4M-4 490.3H4"/>
<g class="lab">
<text x="23" y="85">Xumc201-6A</text><text x="23" y="104">Xbarc204.1-6A</text><text x="23" y="183">Xbarc23-6A</text><text x="23" y="196">XuPt7599-6A</text><text x="23" y="208">Xcnl138-6A</text><text x="23" y="221">XuPt8833-6A</text><text x="23" y="247">Xumc753-6A</text><text x="23" y="289">Xbarc1055-6A</text><text x="23" y="376">(Break)</text><text x="23" y="464">Xcnl153-6A</text><text x="23" y="478">XuPT3-6A</text><text x="23" y="490">XuPt0864-6A</text><text x="23" y="502">XuPt6904-6A</text><text x="23" y="585">Xbarc169-6A</text>
</g>
</g>

<g id="map-6B" transform="translate(2279.3 0)">
<text class="ttl" x="-38.3" y="77">Conan/Reeder-6B</text>
<path class="stk" d="M-10 91.1H-2M-10 134H-2M-10 176.8H-2M-10 219.6H-2M-10 262.5H-2M-10 305.3H-2M-10 348.2H-2M-10 391H-2M-10 433.8H-2M-10 476.7H-2M-10 519.5H-2M-10 562.4H-2"/>
<g class="sc"><text transform="translate(-15 91.1) rotate(-90)">1</text><text transform="translate(-15 134) rotate(-90)">8</text><text transform="translate(-15 176.8) rotate(-90)">15</text><text transform="translate(-15 219.6) rotate(-90)">22</text><text transform="translate(-15 262.5) rotate(-90)">29</text><text transform="translate(-15 305.3) rotate(-90)">36</text><text transform="translate(-15 348.2) rotate(-90)">43</text><text transform="translate(-15 391) rotate(-90)">50</text><text transform="translate(-15 433.8) rotate(-90)">57</text><text transform="translate(-15 476.7) rotate(-90)">64</text><text transform="translate(-15 519.5) rotate(-90)">71</text><text transform="translate(-15 562.4) rotate(-90)">78</text></g>
<rect class="bar" x="-1.5" y="85" width="3" height="500"/>
<path class="tk" d="M-4 85H4M-4 585H4M-4 126H4M-4 128H4M-4 130H4M-4 147H4M-4 207.3H4M-4 210H4M-4 300H4M-4 313.3H4M-4 319.3H4M-4 334.3H4M-4 336.7H4M-4 358H4M-4 409.3H4M-4 420H4M-4 428.3H4M-4 433.3H4M-4 442.3H4M-4 453.3H4M-4 463.3H4M-4 526.7H4"/>
<g class="lab">
<text x="23" y="89">XuPt0245-6B</text><text x="23" y="108">XuPt6282-6B</text><text x="23" y="127">XuPt4564-6B</text><text x="23" y="146">Xumc486-6B</text><text x="23" y="165">XuPt2095-6B</text><text x="23" y="185">XuPt3118-6B</text><text x="23" y="204">XuPt1241-6B</text><text x="23" y="223">XuPt8814-6B</text><text x="23" y="242">XuPt5256-6B</text><text x="23" y="262">Xgum132-6B</text><text x="23" y="281">XuPt9594-6B</text><text x="23" y="300">XuPt2218-6B</text><text x="23" y="319">XuPT4-6B</text><text x="23" y="339">XuPt2587-6B</text><text x="23" y="358">Xbarc68-6B</text><text x="23" y="377">Xbarc1008-6B</text><text x="23" y="396">Xgum107-6B</text><text x="23" y="415">Xgum193-6B</text><text x="23" y="435">XuPt4648-6B</text><text x="23" y="454">XuPt4716-6B</text><text x="23" y="473">XuPt3060-6B</text><text x="23" y="492">Xgum58-6B</text><text x="23" y="512">Xgum88-6B</text><text x="23" y="531">Xbarc146-6B</text><text x="23" y="550">Xbarc354-6B</text><text x="23" y="569">XuPt9881-6B</text><text x="23" y="588.7">XuPt3581-6B</text>
</g>
</g>

<g id="map-6D" transform="translate(2407.3 0)">
<text class="ttl" x="-38.3" y="77">Conan/Reeder-6D</text>
<path class="stk" d="M-10 90.3H-2M-10 131.1H-2M-10 171.9H-2M-10 212.7H-2M-10 253.5H-2M-10 294.3H-2M-10 335.1H-2M-10 375.9H-2M-10 416.7H-2M-10 457.5H-2M-10 498.3H-2M-10 539.1H-2M-10 579.9H-2"/>
<g class="sc"><text transform="translate(-15 90.3) rotate(-90)">1</text><text transform="translate(-15 131.1) rotate(-90)">9</text><text transform="translate(-15 171.9) rotate(-90)">17</text><text transform="translate(-15 212.7) rotate(-90)">25</text><text transform="translate(-15 253.5) rotate(-90)">33</text><text transform="translate(-15 294.3) rotate(-90)">41</text><text transform="translate(-15 335.1) rotate(-90)">49</text><text transform="translate(-15 375.9) rotate(-90)">57</text><text transform="translate(-15 416.7) rotate(-90)">65</text><text transform="translate(-15 457.5) rotate(-90)">73</text><text transform="translate(-15 498.3) rotate(-90)">81</text><text transform="translate(-15 539.1) rotate(-90)">89</text><text transform="translate(-15 579.9) rotate(-90)">97</text></g>
<rect class="bar" x="-1.5" y="85" width="3" height="500"/>
<path class="tk" d="M-4 85H4M-4 585H4M-4 153H4M-4 206H4M-4 332.7H4M-4 460H4M-4 498H4"/>
<g class="lab">
<text x="23" y="85">Xbarc54-6D</text><text x="23" y="153">Xbarc196-6D</text><text x="23" y="206">Xcfd188-6D</text><text x="23" y="332.7">(Break)</text><text x="23" y="460">Xbarc21-6D</text><text x="23" y="486">XuPt6661-6D</text><text x="23" y="498">XuPt1054-6D</text><text x="23" y="585">Xumc773-6D</text>
</g>
</g>

<g id="map-7A" transform="translate(2530 0)">
<text class="ttl" x="-38.3" y="77">Conan/Reeder-7A</text>
<path class="stk" d="M-10 116.3H-2M-10 179.3H-2M-10 242.3H-2M-10 305.3H-2M-10 368.3H-2M-10 431.3H-2M-10 494.3H-2M-10 557.3H-2"/>
<g class="sc"><text transform="translate(-15 116.3) rotate(-90)">10</text><text transform="translate(-15 179.3) rotate(-90)">30</text><text transform="translate(-15 242.3) rotate(-90)">50</text><text transform="translate(-15 305.3) rotate(-90)">70</text><text transform="translate(-15 368.3) rotate(-90)">90</text><text transform="translate(-15 431.3) rotate(-90)">110</text><text transform="translate(-15 494.3) rotate(-90)">130</text><text transform="translate(-15 557.3) rotate(-90)">150</text></g>
<rect class="bar" x="-1.5" y="85" width="3" height="500"/>
<path class="tk" d="M-4 85H4M-4 585H4M-4 143.3H4M-4 220H4M-4 299H4M-4 301H4M-4 330H4M-4 370H4M-4 392H4M-4 409H4M-4 414H4M-4 418H4M-4 423.3H4M-4 425.3H4M-4 429.3H4M-4 432.7H4M-4 435H4M-4 506H4M-4 579H4"/>
<g class="lab">
<text x="23" y="85">XuPt9207-7A</text><text x="23" y="143.3">Xumc388.2-7A</text><text x="23" y="220">(Break)</text><text x="23" y="286">XuPt3883-7A</text><text x="23" y="298">XuPt9796-7A</text><text x="23" y="310">XuPt7734-7A</text><text x="23" y="330">XuPt1928-7A</text><text x="23" y="370">Xbarc22-7A</text><text x="23" y="392">XuPt2992-7A</text><text x="23" y="409">Xbarc281-7A</text><text x="23" y="420">Xumc488-7A</text><text x="23" y="432">XuPt8399-7A</text><text x="23" y="444">XuPt0205-7A</text><text x="23" y="456">Xbarc49-7A</text><text x="23" y="468">XuPt6217-7A</text><text x="23" y="480">XuPt4877-7A</text><text x="23" y="492">XuPt3226-7A</text><text x="23" y="504">XuPt2260-7A</text><text x="23" y="516">Xumc786-7A</text><text x="23" y="567">Xgum332-7A</text><text x="23" y="579">Xgum282-7A</text>
</g>
</g>

<g id="map-7B" transform="translate(2658 0)">
<text class="ttl" x="-38.3" y="77">Conan/Reeder-7B</text>
<path class="stk" d="M-10 118.3H-2M-10 184.3H-2M-10 250.3H-2M-10 316.3H-2M-10 382.3H-2M-10 448.3H-2M-10 514.3H-2M-10 580.3H-2"/>
<g class="sc"><text transform="translate(-15 118.3) rotate(-90)">10</text><text transform="translate(-15 184.3) rotate(-90)">30</text><text transform="translate(-15 250.3) rotate(-90)">50</text><text transform="translate(-15 316.3) rotate(-90)">70</text><text transform="translate(-15 382.3) rotate(-90)">90</text><text transform="translate(-15 448.3) rotate(-90)">110</text><text transform="translate(-15 514.3) rotate(-90)">130</text><text transform="translate(-15 580.3) rotate(-90)">150</text></g>
<rect class="bar" x="-1.5" y="85" width="3" height="500"/>
<path class="tk" d="M-4 85H4M-4 585H4M-4 110H4M-4 117.3H4M-4 118.3H4M-4 128.3H4M-4 130H4M-4 184.3H4M-4 228.3H4M-4 242.3H4M-4 326H4M-4 409.3H4M-4 419.3H4M-4 430.7H4M-4 441.7H4M-4 446.7H4M-4 465.3H4M-4 467.7H4M-4 500H4"/>
<g class="lab">
<text x="23" y="85">XuPt2994-7B</text><text x="23" y="95">XuPt2273-7B</text><text x="23" y="114">XuPt3833-7B</text><text x="23" y="127">XuPt2305-7B</text><text x="23" y="139">XuPt2572-7B</text><text x="23" y="151">XuPt0312-7B</text><text x="23" y="163">XuPt1149-7B</text><text x="23" y="175">XuPt9467-7B</text><text x="23" y="186">Xbarc1014-7B</text><text x="23" y="198">Xbarc176-7B</text><text x="23" y="210">XuPt1723-7B</text><text x="23" y="222">XuPt8283-7B</text><text x="23" y="234">XuPt2883-7B</text><text x="23" y="246">XuPt7318-7B</text><text x="23" y="326">(Break)</text><text x="23" y="409.3">Xgum611-7B</text><text x="23" y="421">XuPt0194-7B</text><text x="23" y="433">XuPt6156-7B</text><text x="23" y="445">XuPt8938-7B</text><text x="23" y="457">XuPt3939-7B</text><text x="23" y="468">Xgum577-7B</text><text x="23" y="480.7">XuPt8007-7B</text><text x="23" y="493">Xumc273-7B</text><text x="23" y="504">Xbarc182-7B</text><text x="23" y="585">Xbarc303-7B</text>
</g>
</g>

<g id="map-7D" transform="translate(2786.3 0)">
<text class="ttl" x="-38.3" y="77">Conan/Reeder-7D</text>
<path class="stk" d="M-10 114.5H-2M-10 173H-2M-10 231.5H-2M-10 290H-2M-10 348.5H-2M-10 407H-2M-10 465.5H-2M-10 524H-2M-10 582.5H-2"/>
<g class="sc"><text transform="translate(-15 114.5) rotate(-90)">10</text><text transform="translate(-15 173) rotate(-90)">30</text><text transform="translate(-15 231.5) rotate(-90)">50</text><text transform="translate(-15 290) rotate(-90)">70</text><text transform="translate(-15 348.5) rotate(-90)">90</text><text transform="translate(-15 407) rotate(-90)">110</text><text transform="translate(-15 465.5) rotate(-90)">130</text><text transform="translate(-15 524) rotate(-90)">150</text><text transform="translate(-15 582.5) rotate(-90)">170</text></g>
<rect class="bar" x="-1.5" y="85" width="3" height="500"/>
<path class="tk" d="M-4 85H4M-4 585H4M-4 100.7H4M-4 102.3H4M-4 103.3H4M-4 162.3H4M-4 165.7H4M-4 240H4M-4 313H4M-4 354H4M-4 393H4M-4 459H4M-4 541H4M-4 543H4M-4 580H4M-4 583.3H4"/>
<g class="lab">
<text x="23" y="85">Xbarc97-7D</text><text x="23" y="105">XuPt8343-7D</text><text x="23" y="117">XuPt8422-7D</text><text x="23" y="129">XuPt0695-7D</text><text x="23" y="141">XuPt7842-7D</text><text x="23" y="153">XuPt1051-7D</text><text x="23" y="164">XuPt8524-7D</text><text x="23" y="176">XuPt7375-7D</text><text x="23" y="240">(Break)</text><text x="23" y="313">Xgum44-7D</text><text x="23" y="354">Xbarc126-7D</text><text x="23" y="393">XuPt0789-7D</text><text x="23" y="459">(Break2)</text><text x="23" y="541">XuPt8975-7D</text><text x="23" y="553">XuPt2565-7D</text><text x="23" y="567">XuPt0934-7D</text><text x="23" y="579">Xbarc184.1-7D</text><text x="23" y="591">Xgum111.1-7D</text>
</g>
</g>

<g id="connectors">
<path transform="translate(63.3 0)" d="M3 85.5h2L22 88.7M3 113h2L22 102M3 114h2L22 115.7M3 115h2L22 128.7M3 116h2L22 142.7M3 117h2L22 155.7M3 117h2L22 169.7M3 137h2L22 182.7M3 139h2L22 196.7M3 142h2L22 209.7M3 144h2L22 223.7M3 146h2L22 236.7M3 147h2L22 250.7M3 147h2L22 263.7M3 176.7h2L22 277.7M3 223.3h2L22 290.7M3 283h2L22 304.7M3 284h2L22 317.7M3 286h2L22 331.7M3 290h2L22 345M3 292h2L22 359M3 311.7h2L22 372M3 311.7h2L22 386M3 374.3h2L22 399M3 437.3h2L22 412.7M3 467.7h2L22 426M3 490.7h2L22 440M3 511h2L22 453M3 521.7h2L22 467M3 555h2L22 480M3 556h2L22 494M3 557h2L22 507M3 558h2L22 521M3 559h2L22 534M3 560h2L22 548M3 561H22M3 562h2L22 575M3 585h2L22 588.7"/>
<path transform="translate(191 0)" d="M3 85.5h2L22 88.7M3 86h2L22 102.7M3 92h2L22 116.7M3 92h2L22 130.7M3 93h2L22 145.7M3 148h2L22 159.7M3 151h2L22 173.7M3 155h2L22 188.7M3 190h2L22 202.7M3 197h2L22 216.7M3 203h2L22 230.7M3 211h2L22 245.7M3 220h2L22 259.7M3 233h2L22 273.7M3 235h2L22 288.7M3 237h2L22 302.7M3 238h2L22 316.7M3 239h2L22 330.7M3 240h2L22 345.7M3 240h2L22 360M3 241h2L22 374M3 242h2L22 389M3 273h2L22 403M3 274h2L22 417M3 286h2L22 431M3 287h2L22 446M3 304h2L22 460M3 305h2L22 474M3 379h2L22 489M3 379h2L22 503M3 403h2L22 517M3 403h2L22 531M3 457h2L22 546M3 509h2L22 560M3 563h2L22 574M3 585h2L22 588.7"/>
<path transform="translate(314 0)" d="M3 85H22M3 85h2L22 95M3 350H22M3 362H22M3 362h2L22 374M3 381.3h2L22 387M3 421H22M3 550H22M3 585H22"/>
<path transform="translate(437.7 0)" d="M3 85.5h2L22 89M3 86h2L22 106M3 94.3h2L22 124M3 121.7h2L22 142M3 149.3h2L22 160M3 173.3h2L22 178M3 181.7h2L22 196M3 181.7h2L22 214M3 193.3h2L22 231M3 207.3h2L22 249M3 224h2L22 267M3 250h2L22 285M3 251h2L22 303M3 252h2L22 321M3 281h2L22 339M3 309.3h2L22 356M3 337h2L22 374M3 340h2L22 392M3 343h2L22 410M3 380h2L22 428M3 435h2L22 446M3 460h2L22 464M3 460h2L22 481M3 486h2L22 499M3 494h2L22 517M3 503.3h2L22 535M3 530h2L22 553M3 557.3h2L22 571M3 585h2L22 589"/>
<path transform="translate(565 0)" d="M3 85.5h2L22 89M3 138h2L22 105.3M3 172h2L22 122M3 177h2L22 139M3 178h2L22 155M3 179H22M3 181h2L22 189M3 182h2L22 205M3 183h2L22 222M3 183h2L22 238.7M3 195h2L22 255M3 195h2L22 272M3 205.7h2L22 289M3 205.7h2L22 304.7M3 205.7h2L22 321.7M3 206h2L22 339M3 272.3h2L22 355M3 272.3h2L22 372M3 361h2L22 389M3 412.3h2L22 405M3 451.7h2L22 422M3 459h2L22 439M3 464h2L22 455M3 472H22M3 476h2L22 489M3 479h2L22 505M3 481h2L22 522M3 483h2L22 539M3 503.3h2L22 555M3 520.3h2L22 572M3 585h2L22 589"/>
<path transform="translate(693.3 0)" d="M3 85H22M3 126H22M3 132h2L22 138M3 176H22M3 208H22M3 253H22M3 299H22M3 339H22M3 386H22M3 400H22M3 408h2L22 412M3 448H22M3 455h2L22 461M3 510H22M3 543.3h2L22 530M3 551.3h2L22 543M3 560.3h2L22 555M3 570h2L22 566M3 570h2L22 578M3 577.3h2L22 591M3 585h2L22 603"/>
<path d="M795 455H815"/>
<path transform="translate(910 0)" d="M3 85H22M3 172H22M3 189H22M3 195h2L22 200M3 195h2L22 212M3 212h2L22 225M3 212h2L22 237M3 252H22M3 308H22M3 402H22M3 495H22M3 510H22M3 510h2L22 522M3 580h2L22 543M3 582h2L22 554M3 583h2L22 566M3 585h2L22 578"/>
<path transform="translate(1038 0)" d="M3 85.5h2L22 89M3 86h2L22 104M3 87h2L22 119M3 88h2L22 134M3 107h2L22 149M3 112.7h2L22 164M3 151h2L22 179M3 163h2L22 195M3 175h2L22 210M3 178h2L22 225M3 180h2L22 240M3 207h2L22 255M3 209h2L22 270M3 211h2L22 285M3 213h2L22 301M3 215h2L22 316M3 217h2L22 331M3 219h2L22 345.7M3 240h2L22 361M3 240h2L22 376M3 241h2L22 392M3 241h2L22 407M3 242h2L22 422M3 242h2L22 437M3 243h2L22 452M3 279h2L22 467M3 333h2L22 482M3 390h2L22 498M3 466h2L22 513M3 510h2L22 528M3 527h2L22 543M3 562h2L22 558M3 564h2L22 573M3 585h2L22 589"/>
<path transform="translate(1161 0)" d="M3 85H22M3 94h2L22 103M3 97h2L22 114M3 142.3h2L22 130M3 142.3H22M3 189H22M3 237H22M3 288H22M3 329H22M3 360H22M3 409H22M3 457H22M3 473H22M3 521H22M3 569H22M3 585H22"/>
<path transform="translate(1284 0)" d="M3 85h2L22 89M3 119.3h2L22 105M3 129.3h2L22 122M3 135.3h2L22 139M3 135.3h2L22 155M3 170.3h2L22 172M3 202.3h2L22 189M3 283.3h2L22 205M3 301.7h2L22 222M3 319.3h2L22 239M3 330h2L22 255M3 373h2L22 272M3 396h2L22 289M3 430h2L22 305M3 440h2L22 322M3 445h2L22 339M3 446h2L22 355M3 447h2L22 372M3 447h2L22 389M3 448h2L22 405M3 448h2L22 422M3 458h2L22 439M3 458h2L22 455M3 458h2L22 472M3 485.3h2L22 489M3 569.3h2L22 505M3 578h2L22 522M3 578h2L22 539M3 578h2L22 555M3 578h2L22 572M3 585h2L22 589"/>
<path d="M1386 358H1406"/>
<path transform="translate(1501 0)" d="M3 85H22M3 156H22M3 220H22M3 254H22M3 308H22M3 390H22M3 443H22M3 568.3h2L22 555M3 568.3h2L22 567M3 585h2L22 579"/>
<path transform="translate(1629 0)" d="M3 85H22M3 146H22M3 250H22M3 309H22M3 339H22M3 395H22M3 452H22M3 454h2L22 462M3 469h2L22 475M3 525H22M3 583h2L22 571M3 583h2L22 582"/>
<path transform="translate(1757 0)" d="M3 85H22M3 115H22M3 116.7h2L22 127M3 163.3h2L22 151M3 163.3H22M3 169.3h2L22 175M3 171.7h2L22 187M3 175h2L22 198M3 234.3h2L22 222M3 234.3H22M3 237.7h2L22 246M3 290H22M3 360h2L22 348M3 360H22M3 443H22M3 528H22M3 585H22"/>
<path transform="translate(1885 0)" d="M3 85H22M3 112H22M3 155h2L22 140.7M3 155h2L22 152M3 158h2L22 164M3 192H22M3 206H22M3 246.3h2L22 234M3 246.3H22M3 268H22M3 292H22M3 334H22M3 377H22M3 391H22M3 398h2L22 402M3 421H22M3 445H22M3 466H22M3 509H22M3 552.7h2L22 541M3 552.7H22M3 571h2L22 559M3 571H22M3 585H22"/>
<path transform="translate(2018 0)" d="M3 85H22M3 96h2L22 105M3 98h2L22 117M3 99.3h2L22 129M3 99.3h2L22 141M3 169H22M3 197H22M3 255H22M3 265.3h2L22 267M3 306H22M3 365H22M3 423H22M3 439H22M3 495H22M3 522H22M3 570.7h2L22 547M3 570.7h2L22 559M3 570.7H22M3 585h2L22 583"/>
<path transform="translate(2146.3 0)" d="M3 85H22M3 97.7h2L22 104M3 183H22M3 196H22M3 196h2L22 208M3 199.3h2L22 221M3 247H22M3 289H22M3 376H22M3 464H22M3 478H22M3 478h2L22 490M3 490.3h2L22 502M3 585H22"/>
<path transform="translate(2279.3 0)" d="M3 85h2L22 89M3 86h2L22 108M3 126h2L22 127M3 127.7h2L22 146M3 130h2L22 165M3 147h2L22 185M3 207.3h2L22 204M3 210h2L22 223M3 210h2L22 242M3 300h2L22 262M3 313.3h2L22 281M3 319.3h2L22 300M3 334.3h2L22 319M3 336.7h2L22 339M3 358H22M3 409.3h2L22 377M3 420h2L22 396M3 420h2L22 415M3 428.3h2L22 435M3 433.3h2L22 454M3 433.3h2L22 473M3 442.3h2L22 492M3 453.3h2L22 512M3 463.3h2L22 531M3 526.7h2L22 550M3 585h2L22 569M3 585h2L22 588.7"/>
<path transform="translate(2407.3 0)" d="M3 85H22M3 153H22M3 206H22M3 332.7H22M3 460H22M3 498h2L22 486M3 498H22M3 585H22"/>
<path transform="translate(2530 0)" d="M3 85H22M3 143.3H22M3 220H22M3 299h2L22 286M3 299h2L22 298M3 301h2L22 310M3 330H22M3 370H22M3 392H22M3 409H22M3 414h2L22 420M3 418h2L22 432M3 423.3h2L22 444M3 425.3h2L22 456M3 429.3h2L22 468M3 432.7h2L22 480M3 432.7h2L22 492M3 435h2L22 504M3 506h2L22 516M3 579h2L22 567M3 585h2L22 579"/>
<path transform="translate(2658 0)" d="M3 85H22M3 85h2L22 95M3 110h2L22 114M3 117.3h2L22 127M3 118.3h2L22 139M3 118.3h2L22 151M3 128.3h2L22 163M3 128.3h2L22 175M3 130h2L22 186M3 130h2L22 198M3 184.3h2L22 210M3 184.3h2L22 222M3 228.3h2L22 234M3 242.3h2L22 246M3 326H22M3 409.3H22M3 419.3h2L22 421M3 430.7h2L22 433M3 430.7h2L22 445M3 441.7h2L22 457M3 446.7h2L22 468M3 465.3h2L22 480.7M3 467.7h2L22 493M3 500h2L22 504M3 585H22"/>
<path transform="translate(2786.3 0)" d="M3 85H22M3 100.7h2L22 105M3 102.3h2L22 117M3 102.3h2L22 129M3 103.3h2L22 141M3 103.3h2L22 153M3 162.3h2L22 164M3 165.7h2L22 176M3 240H22M3 313H22M3 354H22M3 393H22M3 459H22M3 541H22M3 543h2L22 553M3 580h2L22 567M3 583.3h2L22 579M3 583.3h2L22 591"/>
</g>

<g id="legend">
<text x="35" y="631" fill="#000" stroke="#000" stroke-width="0.2">Feature Types:</text>
<path d="M35 645H46" stroke="#000" stroke-width="1"/>
<text x="51" y="645" fill="#3b0a5c">locus</text>
<rect x="42.3" y="653.3" width="3" height="8.3" fill="#8c3a3a" stroke="#4a1010" stroke-width="0.8"/>
<text x="50" y="658" fill="#a23a2a">qtl</text>
</g>
<text x="2832" y="675" fill="#9a9a9a">CMap v1.01</text>
</svg>
